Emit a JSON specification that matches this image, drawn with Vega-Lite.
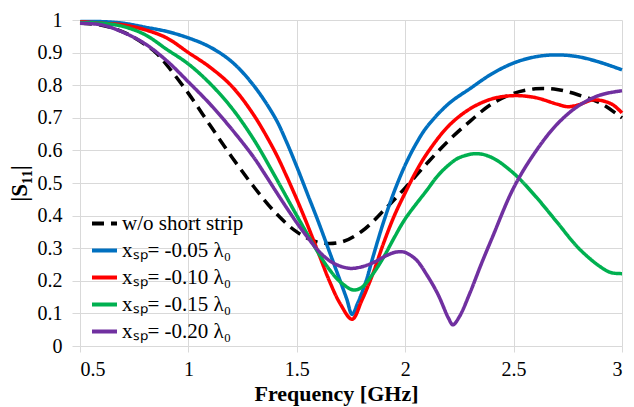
{
  "$schema": "https://vega.github.io/schema/vega-lite/v6.json",
  "width": 542,
  "height": 326,
  "autosize": {"type": "none"},
  "padding": {"left": 80, "top": 20, "right": 12, "bottom": 61},
  "background": "white",
  "config": {
    "font": "Liberation Serif",
    "view": {"stroke": null}
  },
  "datasets": {
    "A": [
      {"f": 0.5, "v": 0.99}, {"f": 0.6, "v": 0.984}, {"f": 0.7, "v": 0.963}, {"f": 0.8, "v": 0.925},
      {"f": 0.85, "v": 0.9}, {"f": 0.9, "v": 0.862}, {"f": 1.0, "v": 0.775}, {"f": 1.1, "v": 0.677},
      {"f": 1.2, "v": 0.58}, {"f": 1.3, "v": 0.49}, {"f": 1.4, "v": 0.41}, {"f": 1.5, "v": 0.35},
      {"f": 1.6, "v": 0.318}, {"f": 1.7, "v": 0.318}, {"f": 1.8, "v": 0.352}, {"f": 1.9, "v": 0.415},
      {"f": 2.0, "v": 0.485}, {"f": 2.1, "v": 0.56}, {"f": 2.2, "v": 0.63}, {"f": 2.3, "v": 0.69},
      {"f": 2.4, "v": 0.743}, {"f": 2.5, "v": 0.775}, {"f": 2.6, "v": 0.789}, {"f": 2.7, "v": 0.787},
      {"f": 2.8, "v": 0.77}, {"f": 2.9, "v": 0.745}, {"f": 3.0, "v": 0.7}
    ],
    "B": [
      {"f": 0.5, "v": 0.995}, {"f": 0.6, "v": 0.995}, {"f": 0.7, "v": 0.99}, {"f": 0.8, "v": 0.978},
      {"f": 0.9, "v": 0.965}, {"f": 1.0, "v": 0.945}, {"f": 1.1, "v": 0.917}, {"f": 1.2, "v": 0.872},
      {"f": 1.3, "v": 0.8}, {"f": 1.4, "v": 0.7}, {"f": 1.45, "v": 0.63}, {"f": 1.5, "v": 0.55},
      {"f": 1.55, "v": 0.465}, {"f": 1.6, "v": 0.38}, {"f": 1.65, "v": 0.29}, {"f": 1.7, "v": 0.2},
      {"f": 1.73, "v": 0.145}, {"f": 1.755, "v": 0.097}, {"f": 1.78, "v": 0.13}, {"f": 1.82, "v": 0.2},
      {"f": 1.85, "v": 0.27}, {"f": 1.9, "v": 0.38}, {"f": 1.95, "v": 0.475}, {"f": 2.0, "v": 0.555},
      {"f": 2.05, "v": 0.62}, {"f": 2.1, "v": 0.672}, {"f": 2.2, "v": 0.743}, {"f": 2.3, "v": 0.79},
      {"f": 2.4, "v": 0.835}, {"f": 2.5, "v": 0.868}, {"f": 2.6, "v": 0.887}, {"f": 2.7, "v": 0.893},
      {"f": 2.8, "v": 0.887}, {"f": 2.9, "v": 0.87}, {"f": 3.0, "v": 0.847}
    ],
    "C": [
      {"f": 0.5, "v": 0.995}, {"f": 0.6, "v": 0.99}, {"f": 0.7, "v": 0.985}, {"f": 0.8, "v": 0.97},
      {"f": 0.9, "v": 0.945}, {"f": 1.0, "v": 0.9}, {"f": 1.1, "v": 0.855}, {"f": 1.2, "v": 0.797},
      {"f": 1.3, "v": 0.71}, {"f": 1.4, "v": 0.595}, {"f": 1.45, "v": 0.525}, {"f": 1.5, "v": 0.45},
      {"f": 1.55, "v": 0.37}, {"f": 1.6, "v": 0.285}, {"f": 1.65, "v": 0.2}, {"f": 1.7, "v": 0.13},
      {"f": 1.755, "v": 0.082}, {"f": 1.8, "v": 0.14}, {"f": 1.85, "v": 0.22}, {"f": 1.9, "v": 0.315},
      {"f": 1.95, "v": 0.4}, {"f": 2.0, "v": 0.47}, {"f": 2.05, "v": 0.535}, {"f": 2.1, "v": 0.59},
      {"f": 2.2, "v": 0.675}, {"f": 2.3, "v": 0.728}, {"f": 2.4, "v": 0.758}, {"f": 2.5, "v": 0.768},
      {"f": 2.6, "v": 0.762}, {"f": 2.7, "v": 0.742}, {"f": 2.75, "v": 0.734}, {"f": 2.8, "v": 0.74},
      {"f": 2.87, "v": 0.755}, {"f": 2.95, "v": 0.743}, {"f": 3.0, "v": 0.715}
    ],
    "D": [
      {"f": 0.5, "v": 0.992}, {"f": 0.6, "v": 0.99}, {"f": 0.7, "v": 0.98}, {"f": 0.8, "v": 0.955},
      {"f": 0.9, "v": 0.91}, {"f": 1.0, "v": 0.865}, {"f": 1.1, "v": 0.805}, {"f": 1.2, "v": 0.73},
      {"f": 1.3, "v": 0.635}, {"f": 1.4, "v": 0.52}, {"f": 1.5, "v": 0.4}, {"f": 1.6, "v": 0.285},
      {"f": 1.65, "v": 0.235}, {"f": 1.7, "v": 0.197}, {"f": 1.76, "v": 0.172}, {"f": 1.8, "v": 0.18},
      {"f": 1.85, "v": 0.22}, {"f": 1.9, "v": 0.272}, {"f": 1.95, "v": 0.333}, {"f": 2.0, "v": 0.39},
      {"f": 2.1, "v": 0.478}, {"f": 2.15, "v": 0.522}, {"f": 2.2, "v": 0.555}, {"f": 2.25, "v": 0.578},
      {"f": 2.33, "v": 0.59}, {"f": 2.4, "v": 0.578}, {"f": 2.5, "v": 0.53}, {"f": 2.6, "v": 0.46},
      {"f": 2.7, "v": 0.38}, {"f": 2.8, "v": 0.3}, {"f": 2.9, "v": 0.243}, {"f": 2.95, "v": 0.225},
      {"f": 3.0, "v": 0.222}
    ],
    "E": [
      {"f": 0.5, "v": 0.99}, {"f": 0.6, "v": 0.985}, {"f": 0.7, "v": 0.962}, {"f": 0.8, "v": 0.927},
      {"f": 0.9, "v": 0.875}, {"f": 1.0, "v": 0.81}, {"f": 1.1, "v": 0.742}, {"f": 1.2, "v": 0.665},
      {"f": 1.3, "v": 0.58}, {"f": 1.35, "v": 0.53}, {"f": 1.4, "v": 0.478}, {"f": 1.45, "v": 0.427},
      {"f": 1.5, "v": 0.378}, {"f": 1.55, "v": 0.333}, {"f": 1.6, "v": 0.292}, {"f": 1.65, "v": 0.262},
      {"f": 1.7, "v": 0.245}, {"f": 1.75, "v": 0.238}, {"f": 1.8, "v": 0.243}, {"f": 1.85, "v": 0.255},
      {"f": 1.9, "v": 0.273}, {"f": 1.95, "v": 0.287}, {"f": 1.98, "v": 0.289}, {"f": 2.0, "v": 0.287},
      {"f": 2.05, "v": 0.265}, {"f": 2.1, "v": 0.218}, {"f": 2.15, "v": 0.16}, {"f": 2.2, "v": 0.085},
      {"f": 2.22, "v": 0.065}, {"f": 2.25, "v": 0.09}, {"f": 2.3, "v": 0.165}, {"f": 2.35, "v": 0.25},
      {"f": 2.4, "v": 0.33}, {"f": 2.5, "v": 0.485}, {"f": 2.6, "v": 0.595}, {"f": 2.7, "v": 0.68},
      {"f": 2.8, "v": 0.737}, {"f": 2.9, "v": 0.77}, {"f": 3.0, "v": 0.783}
    ]
  },
  "encoding": {
    "x": {
      "field": "f", "type": "quantitative",
      "scale": {"domain": [0.5, 3], "nice": false, "zero": false},
      "axis": {
        "values": [0.5, 1, 1.5, 2, 2.5, 3], "format": "~g",
        "title": "Frequency [GHz]", "titleFontSize": 22, "titleFontWeight": "bold", "titleColor": "black",
        "titlePadding": 4, "titleX": 256,
        "labelFontSize": 20, "labelColor": "black", "labelPadding": 7,
        "domain": false, "grid": true, "gridColor": "#D9D9D9", "tickColor": "#D9D9D9", "tickSize": 6
      }
    },
    "y": {
      "field": "v", "type": "quantitative",
      "scale": {"domain": [0, 1], "nice": false},
      "axis": {
        "values": [0, 0.1, 0.2, 0.3, 0.4, 0.5, 0.6, 0.7, 0.8, 0.9, 1], "format": "~g",
        "title": "|S₁₁|", "titleFontSize": 23, "titleFontWeight": "bold", "titleColor": "black",
        "titlePadding": 6,
        "labelFontSize": 20, "labelColor": "black", "labelPadding": 10,
        "domain": false, "grid": true, "gridColor": "#D9D9D9", "tickColor": "#D9D9D9", "tickSize": 8
      }
    },
    "color": {
      "field": "s", "type": "nominal",
      "scale": {
        "domain": ["w/o short strip", "xₛₚ= -0.05 λ₀", "xₛₚ= -0.10 λ₀", "xₛₚ= -0.15 λ₀", "xₛₚ= -0.20 λ₀"],
        "range": ["#000000", "#0070C0", "#FF0000", "#00B050", "#7030A0"]
      },
      "legend": {
        "title": null, "orient": "none", "legendX": 10, "legendY": 189,
        "symbolType": "stroke", "symbolStrokeWidth": 4, "symbolSize": 625,
        "labelFontSize": 21, "labelColor": "black", "labelOffset": 3, "rowPadding": 2,
        "labelLimit": 300
      }
    },
    "strokeDash": {
      "field": "s", "type": "nominal",
      "scale": {
        "domain": ["w/o short strip", "xₛₚ= -0.05 λ₀", "xₛₚ= -0.10 λ₀", "xₛₚ= -0.15 λ₀", "xₛₚ= -0.20 λ₀"],
        "range": [[12, 7], [1, 0], [1, 0], [1, 0], [1, 0]]
      },
      "legend": null
    }
  },
  "layer": [
    {"data": {"name": "A"}, "transform": [{"calculate": "'w/o short strip'", "as": "s"}], "mark": {"type": "line", "strokeWidth": 3.5, "interpolate": "catmull-rom"}},
    {"data": {"name": "B"}, "transform": [{"calculate": "'xₛₚ= -0.05 λ₀'", "as": "s"}], "mark": {"type": "line", "strokeWidth": 3.5, "interpolate": "catmull-rom"}},
    {"data": {"name": "C"}, "transform": [{"calculate": "'xₛₚ= -0.10 λ₀'", "as": "s"}], "mark": {"type": "line", "strokeWidth": 3.5, "interpolate": "catmull-rom"}},
    {"data": {"name": "D"}, "transform": [{"calculate": "'xₛₚ= -0.15 λ₀'", "as": "s"}], "mark": {"type": "line", "strokeWidth": 3.5, "interpolate": "catmull-rom"}},
    {"data": {"name": "E"}, "transform": [{"calculate": "'xₛₚ= -0.20 λ₀'", "as": "s"}], "mark": {"type": "line", "strokeWidth": 3.5, "interpolate": "catmull-rom"}}
  ]
}
